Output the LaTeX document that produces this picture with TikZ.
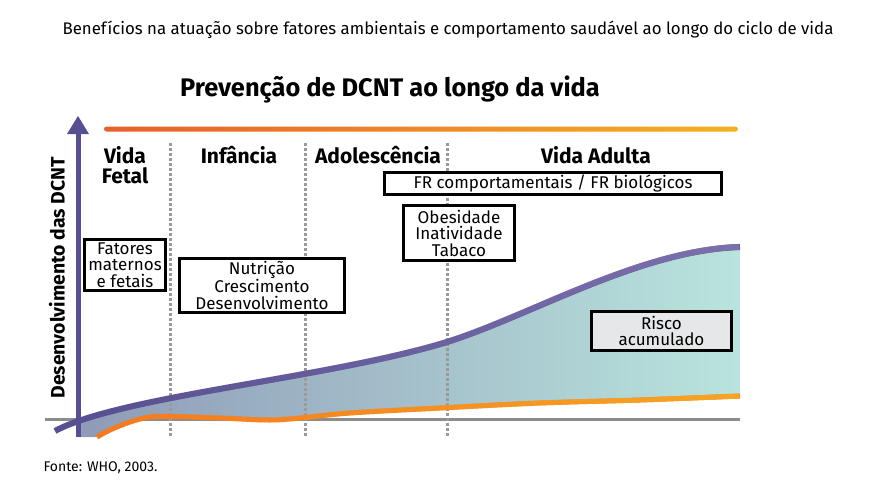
\documentclass[tikz,border=0pt]{standalone}
\usepackage{fontspec}
\setmainfont{Fira Sans}
\usetikzlibrary{fadings}
\definecolor{purpleA}{HTML}{564F90}
\definecolor{purpleB}{HTML}{7D71AD}
\definecolor{orangeA}{HTML}{F47A20}
\definecolor{orangeB}{HTML}{F7A523}
\definecolor{barL}{HTML}{E8602C}
\definecolor{barR}{HTML}{F5B021}
\definecolor{fillL}{HTML}{8D98B6}
\definecolor{fillR}{HTML}{B9E4DD}
\definecolor{divgray}{HTML}{9A9A9A}
\definecolor{basegray}{HTML}{8C8C8C}
\definecolor{riscofill}{HTML}{E6E7E8}
\begin{document}
\begin{tikzpicture}[x=1pt,y=-1pt]
\useasboundingbox (0,0) rectangle (883,495);
\tikzset{
  box/.style={draw=black, line width=3pt, fill=white, align=center, inner sep=0pt,
    font=\fontsize{17}{16.5}\selectfont},
  phase/.style={font=\bfseries\fontsize{21}{20}\selectfont, align=center},
  divider/.style={draw=divgray, line width=3pt, dash pattern=on 3pt off 2pt},
}
% caption and title
\node (cap) at (448,30) {\fontsize{16.8}{18}\selectfont Benefícios na atuação sobre fatores ambientais e comportamento saudável ao longo do ciclo de vida};
\node (title) at (390,90) {\bfseries\fontsize{25.4}{28}\selectfont Prevenção de DCNT ao longo da vida};
% top gradient bar
\shade[left color=barL, right color=barR, rounded corners=2.5pt] (104,126.5) rectangle (738,131.5);
% baseline
\draw[basegray, line width=3pt] (45,419) -- (740,419);
% fill between curves
\begin{scope}
  \clip (78,100) rectangle (740,450);
  \shade[left color=fillL, right color=fillR]
    (55,431) .. controls (120,396) and (330,378) .. (447,342) .. controls (530,316) and (640,250) .. (740,247)
    -- (740,396)
    -- plot[smooth, tension=0.6] coordinates {(740,396) (640,400) (540,403) (440,408) (350,413) (305,417.5) (270,420) (220,418) (170,416.5) (150,417) (130,422) (110,430) (97,437)}
    -- (55,437) -- cycle;
\end{scope}
% dividers
\draw[divider] (170,143) -- (170,437);
\draw[divider] (305,143) -- (305,437);
\draw[divider] (447,143) -- (447,437);
% curves
\draw[orangeA, line width=5pt] plot[smooth, tension=0.6] coordinates {(97,437) (110,430) (130,422) (150,417) (170,416.5) (220,418) (270,420) (305,417.5) (350,413) (440,408) (540,403) (640,400) (740,396)};
\draw[orangeB, line width=5pt, path fading=west] plot[smooth, tension=0.6] coordinates {(97,437) (110,430) (130,422) (150,417) (170,416.5) (220,418) (270,420) (305,417.5) (350,413) (440,408) (540,403) (640,400) (740,396)};
\draw[purpleA, line width=6pt] (55,431) .. controls (120,396) and (330,378) .. (447,342) .. controls (530,316) and (640,250) .. (740,247);
\draw[purpleB, line width=6pt, path fading=west] (55,431) .. controls (120,396) and (330,378) .. (447,342) .. controls (530,316) and (640,250) .. (740,247);
% axis
\draw[purpleA, line width=5pt] (78,437) -- (78,132);
\fill[purpleA] (78,116) -- (89,134) -- (67,134) -- cycle;
\node[rotate=90, font=\bfseries\fontsize{19.4}{21}\selectfont] (ylab) at (57,278) {Desenvolvimento das DCNT};
% phases
\node[phase] (fetal) at (125,165) {Vida\\Fetal};
\node[phase] (inf) at (239,155) {Infância};
\node[phase] (adol) at (378,155) {Adolescência};
\node[phase] (adul) at (596,155) {Vida Adulta};
% boxes
\node[box, minimum width=337pt, minimum height=22pt] (fr) at (553,183.5) {FR comportamentais / FR biológicos};
\node[box, minimum width=111pt, minimum height=55pt] (obes) at (459,233) {Obesidade\\Inatividade\\Tabaco};
\node[box, minimum width=81pt, minimum height=51pt] (fat) at (125,265) {Fatores\\maternos\\e fetais};
\node[box, minimum width=165pt, minimum height=54pt] (nut) at (262,285.5) {Nutrição\\Crescimento\\Desenvolvimento};
\node[box, fill=riscofill, minimum width=140pt, minimum height=39pt] (risco) at (661.5,331) {Risco\\acumulado};
% source
\node[anchor=west, font=\fontsize{14}{16}\selectfont] (fonte) at (40,468) {Fonte: WHO, 2003.};
\end{tikzpicture}
\end{document}
